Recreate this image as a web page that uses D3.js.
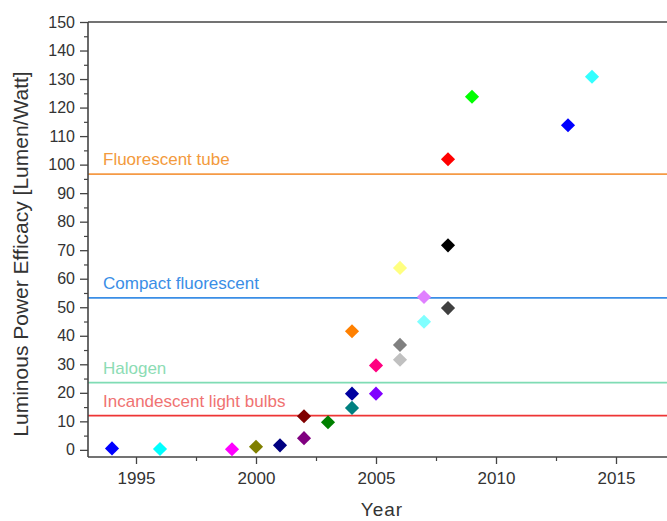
<!DOCTYPE html>
<html>
<head>
<meta charset="utf-8">
<script src="https://cdn.jsdelivr.net/npm/d3@7"></script>
<style>
  html, body { margin: 0; padding: 0; background: #fff; }
  svg { display: block; font-family: "Liberation Sans", Arial, sans-serif; }
</style>
</head>
<body>
<svg id="chart" width="667" height="521"></svg>
<script>
// Light source efficacy by year (lm/W)
const years  = [1994, 1996, 1999, 2000, 2001, 2002, 2002, 2003, 2004, 2004, 2004, 2005, 2005, 2006, 2006, 2006, 2007, 2007, 2008, 2008, 2008, 2009, 2013, 2014];
const values = [0.5, 0.3, 0.2, 1.1, 1.6, 4.1, 11.8, 9.7, 14.7, 19.7, 41.6, 19.7, 29.6, 31.6, 36.8, 63.8, 44.9, 53.6, 49.7, 71.7, 101.9, 123.8, 113.8, 130.8];
const colors = ["#0000ff", "#00ffff", "#ff00ff", "#808000", "#000080", "#800080", "#800000", "#008000", "#008080", "#0000a0", "#ff8000", "#8000ff", "#ff0080", "#c0c0c0", "#808080", "#ffff80", "#80ffff", "#e080ff", "#404040", "#000000", "#ff0000", "#00ff00", "#0000ff", "#33ffff"];

// Reference technologies
const refNames  = ["Fluorescent tube", "Compact fluorescent", "Halogen", "Incandescent light bulbs"];
const refValues = [96.7, 53.3, 23.6, 12.0];
const refLineColors = ["#f59a45", "#3a8ee6", "#7fdcb4", "#ee3535"];
const refTextColors = ["#f39a3c", "#3a8ee6", "#8cdcb4", "#f07272"];

const yTicks = d3.range(0, 151, 10);
const xTicks = [1995, 2000, 2005, 2010, 2015];

const svg = d3.select("#chart");
const m = { left: 88, top: 22, bottom: 457, right: 667 };

const x = d3.scaleLinear().domain([1993, 2017.125]).range([m.left, m.right]);
const y = d3.scaleLinear().domain([-2.5, 150]).range([m.bottom, m.top]);

const axisColor = "#444";
const tickText = "#333";

// Reference lines
const refs = refNames.map((n, i) => ({ name: n, v: refValues[i], lc: refLineColors[i], tc: refTextColors[i] }));
svg.append("g").selectAll("line").data(refs).join("line")
  .attr("x1", m.left).attr("x2", m.right)
  .attr("y1", d => y(d.v)).attr("y2", d => y(d.v))
  .attr("stroke", d => d.lc).attr("stroke-width", 1.8);
svg.append("g").selectAll("text").data(refs).join("text")
  .attr("x", 103).attr("y", d => y(d.v) - 9)
  .attr("fill", d => d.tc)
  .attr("font-size", 17)
  .text(d => d.name);

// Y axis
const yAxis = d3.axisLeft(y).tickValues(yTicks).tickSize(8).tickPadding(5).tickSizeOuter(0);
const gy = svg.append("g").attr("transform", `translate(${m.left},0)`).call(yAxis);
gy.select(".domain").remove();
gy.selectAll(".tick line").attr("stroke", axisColor).attr("stroke-width", 1.3);
gy.selectAll(".tick text").attr("fill", tickText).attr("font-size", 16).attr("font-family", "Liberation Sans, Arial, sans-serif");
const yMinor = d3.axisLeft(y).tickValues(d3.range(5, 150, 10)).tickSize(4).tickFormat("");
const gym = svg.append("g").attr("transform", `translate(${m.left},0)`).call(yMinor);
gym.select(".domain").remove();
gym.selectAll(".tick line").attr("stroke", axisColor).attr("stroke-width", 1.2);

// X axis
const xAxis = d3.axisBottom(x).tickValues(xTicks).tickFormat(d3.format("d")).tickSize(7).tickPadding(8);
const gx = svg.append("g").attr("transform", `translate(0,${m.bottom})`).call(xAxis);
gx.select(".domain").remove();
gx.selectAll(".tick line").attr("stroke", axisColor).attr("stroke-width", 1.3);
gx.selectAll(".tick text").attr("fill", tickText).attr("font-size", 17).attr("font-family", "Liberation Sans, Arial, sans-serif");
const xMinor = d3.axisBottom(x).tickValues([1997.5, 2002.5, 2007.5, 2012.5]).tickSize(4).tickFormat("");
const gxm = svg.append("g").attr("transform", `translate(0,${m.bottom})`).call(xMinor);
gxm.select(".domain").remove();
gxm.selectAll(".tick line").attr("stroke", axisColor).attr("stroke-width", 1.2);

// Frame lines
svg.append("line").attr("x1", m.left).attr("x2", m.left).attr("y1", m.top).attr("y2", m.bottom)
  .attr("stroke", axisColor).attr("stroke-width", 1.6);
svg.append("line").attr("x1", m.left).attr("x2", m.right).attr("y1", m.bottom).attr("y2", m.bottom)
  .attr("stroke", axisColor).attr("stroke-width", 1.6);
svg.append("line").attr("x1", m.left).attr("x2", m.right).attr("y1", m.top).attr("y2", m.top)
  .attr("stroke", axisColor).attr("stroke-width", 1.6);

// Data points as diamonds
const pts = years.map((yr, i) => ({ yr, v: values[i], c: colors[i] }));
const diamond = d3.symbol().type(d3.symbolSquare).size(100)();
svg.append("g").selectAll("path").data(pts).join("path")
  .attr("d", diamond)
  .attr("transform", d => `translate(${x(d.yr)},${y(d.v)}) rotate(45)`)
  .attr("fill", d => d.c);

// Axis titles
svg.append("text")
  .attr("transform", `translate(28,254) rotate(-90)`)
  .attr("text-anchor", "middle")
  .attr("fill", "#333").attr("font-size", 21)
  .text("Luminous Power Efficacy [Lumen/Watt]");
svg.append("text")
  .attr("x", 382).attr("y", 516)
  .attr("text-anchor", "middle")
  .attr("fill", "#333").attr("font-size", 19).attr("letter-spacing", 1)
  .text("Year");
</script>
</body>
</html>
